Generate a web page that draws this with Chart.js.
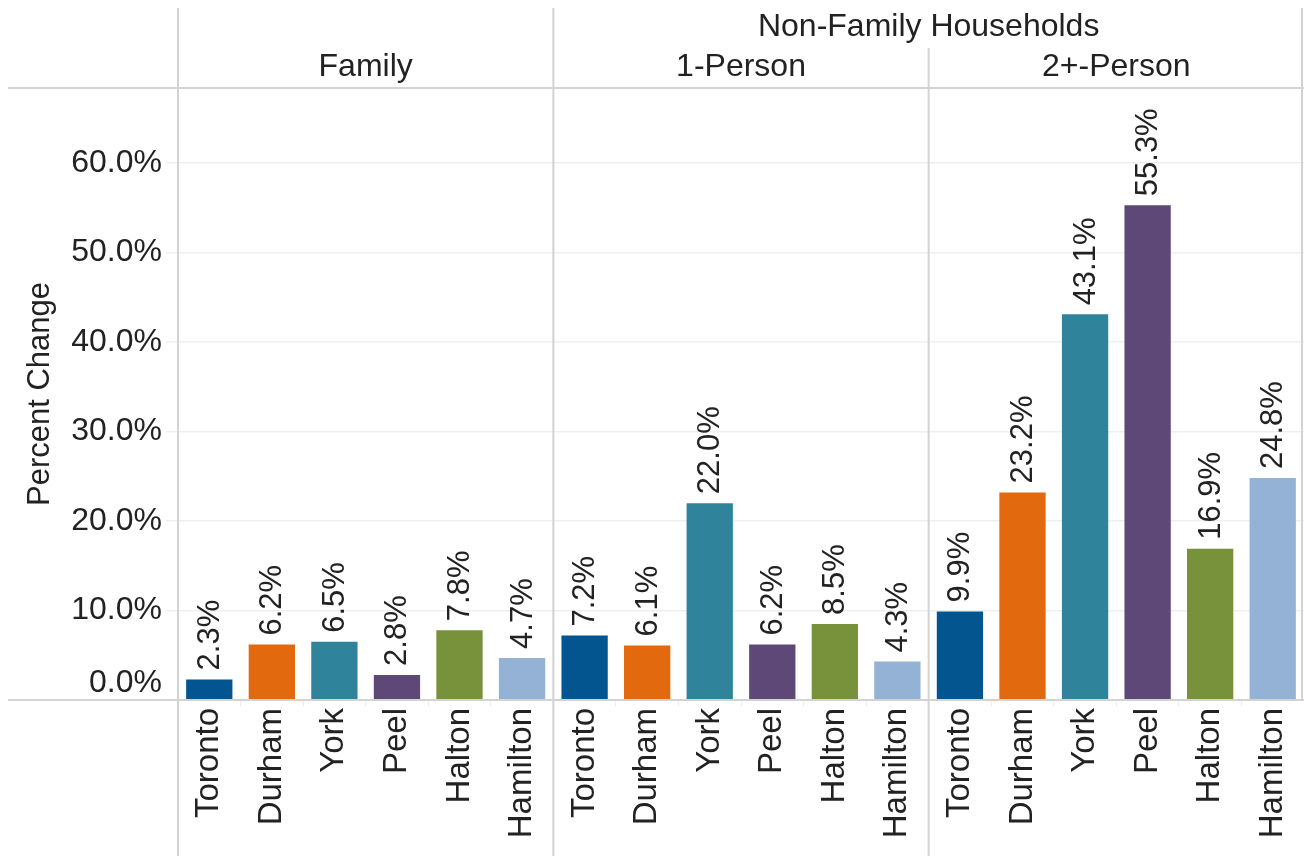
<!DOCTYPE html>
<html>
<head>
<meta charset="utf-8">
<title>Percent Change in Households</title>
<script src="https://cdn.jsdelivr.net/npm/chart.js@4.4.1/dist/chart.umd.min.js"></script>
<style>
  html, body { margin: 0; padding: 0; background: #fff; }
  #wrap { position: relative; width: 1304px; height: 856px; }
</style>
</head>
<body>
<div id="wrap"><canvas id="chart" width="1304" height="856"></canvas></div>
<script>
// --- Data ---
const regions = ['Toronto', 'Durham', 'York', 'Peel', 'Halton', 'Hamilton'];
const regionColors = ['#03558f', '#e2690d', '#2f849b', '#5d4878', '#77923a', '#94b2d6'];
const panels = ['Family', '1-Person', '2+-Person'];
const groupTitle = 'Non-Family Households';
const familyValues = [2.3, 6.2, 6.5, 2.8, 7.8, 4.7];
const onePersonValues = [7.2, 6.1, 22.0, 6.2, 8.5, 4.3];
const twoPlusValues = [9.9, 23.2, 43.1, 55.3, 16.9, 24.8];
const yTicks = [0, 10, 20, 30, 40, 50, 60];
const yMax = 68.4;

// --- Build the flat category list (3 panels x 6 regions) ---
const labels = [...regions, ...regions, ...regions];
const values = [...familyValues, ...onePersonValues, ...twoPlusValues];
const colors = [...regionColors, ...regionColors, ...regionColors];

const FONT = "'Liberation Sans', Arial, sans-serif";
const TEXT = '#222';
const LINE = '#d3d3d3';

const fmt = v => v.toFixed(1) + '%';

// --- Drawing of headers, panel lines, y labels, value labels ---
const decorations = {
    id: 'decorations',
    afterDraw(chart) {
        const { ctx, chartArea: a, scales: { x, y } } = chart;
        const n = regions.length;
        // panel edges from the category scale
        const half = (x.getPixelForValue(1) - x.getPixelForValue(0)) / 2;
        const edges = [0, n, 2 * n].map(i => x.getPixelForValue(i) - half);
        edges.push(x.getPixelForValue(3 * n - 1) + half);

        ctx.save();
        ctx.strokeStyle = LINE;
        ctx.lineWidth = 2;
        // horizontal: header bottom and zero line
        ctx.beginPath();
        ctx.moveTo(8, a.top); ctx.lineTo(chart.width, a.top);
        ctx.moveTo(8, a.bottom); ctx.lineTo(chart.width, a.bottom);
        // vertical panel lines
        ctx.moveTo(edges[0], 8); ctx.lineTo(edges[0], chart.height);
        ctx.moveTo(edges[1], 8); ctx.lineTo(edges[1], chart.height);
        ctx.moveTo(edges[2], 48); ctx.lineTo(edges[2], chart.height);
        ctx.moveTo(edges[3] - 2, 8); ctx.lineTo(edges[3] - 2, a.bottom);
        ctx.stroke();

        // headers
        ctx.fillStyle = TEXT;
        ctx.font = '32px ' + FONT;
        ctx.textAlign = 'center';
        ctx.textBaseline = 'middle';
        ctx.fillText(groupTitle, (edges[1] + edges[3]) / 2, 27);
        panels.forEach((p, i) => ctx.fillText(p, (edges[i] + edges[i + 1]) / 2, 67));

        // y tick labels (bottom one kept inside the plot)
        ctx.font = '32px ' + FONT;
        ctx.textAlign = 'right';
        yTicks.forEach(t => {
            const py = Math.min(y.getPixelForValue(t), a.bottom - 17);
            ctx.fillText(fmt(t), a.left - 16, py);
        });

        // axis title
        ctx.save();
        ctx.translate(40, (a.top + a.bottom) / 2);
        ctx.rotate(-Math.PI / 2);
        ctx.textAlign = 'center';
        ctx.font = '31px ' + FONT;
        ctx.fillText('Percent Change', 0, 0);
        ctx.restore();

        // value labels above bars, rotated
        ctx.font = '31px ' + FONT;
        chart.getDatasetMeta(0).data.forEach((bar, i) => {
            ctx.save();
            ctx.translate(bar.x, bar.y - 9);
            ctx.rotate(-Math.PI / 2);
            ctx.textAlign = 'left';
            ctx.textBaseline = 'middle';
            ctx.fillText(fmt(values[i]), 0, 1);
            ctx.restore();
        });
        ctx.restore();
    }
};

new Chart(document.getElementById('chart'), {
    type: 'bar',
    data: {
        labels: labels,
        datasets: [{
            data: values,
            backgroundColor: colors,
            borderWidth: 0,
            barPercentage: 0.74,
            categoryPercentage: 1.0
        }]
    },
    options: {
        responsive: false,
        animation: false,
        layout: { padding: { top: 88, right: 0, left: 0, bottom: 0 } },
        plugins: { legend: { display: false }, tooltip: { enabled: false } },
        scales: {
            x: {
                afterFit: s => { s.height = 156; s.paddingLeft = 0; s.paddingRight = 0; },
                grid: { display: true, drawOnChartArea: false, offset: true, tickLength: 6, color: '#ececec' },
                border: { display: false },
                ticks: {
                    minRotation: 90, maxRotation: 90, autoSkip: false, padding: 2,
                    color: TEXT, font: { family: FONT, size: 33 }
                }
            },
            y: {
                min: 0, max: yMax,
                afterFit: s => { s.width = 178; },
                afterBuildTicks: s => { s.ticks = yTicks.map(v => ({ value: v })); },
                grid: { color: '#efefef', lineWidth: 1.5, tickLength: 12 },
                border: { display: false },
                ticks: { display: false }
            }
        }
    },
    plugins: [decorations]
});
</script>
</body>
</html>
